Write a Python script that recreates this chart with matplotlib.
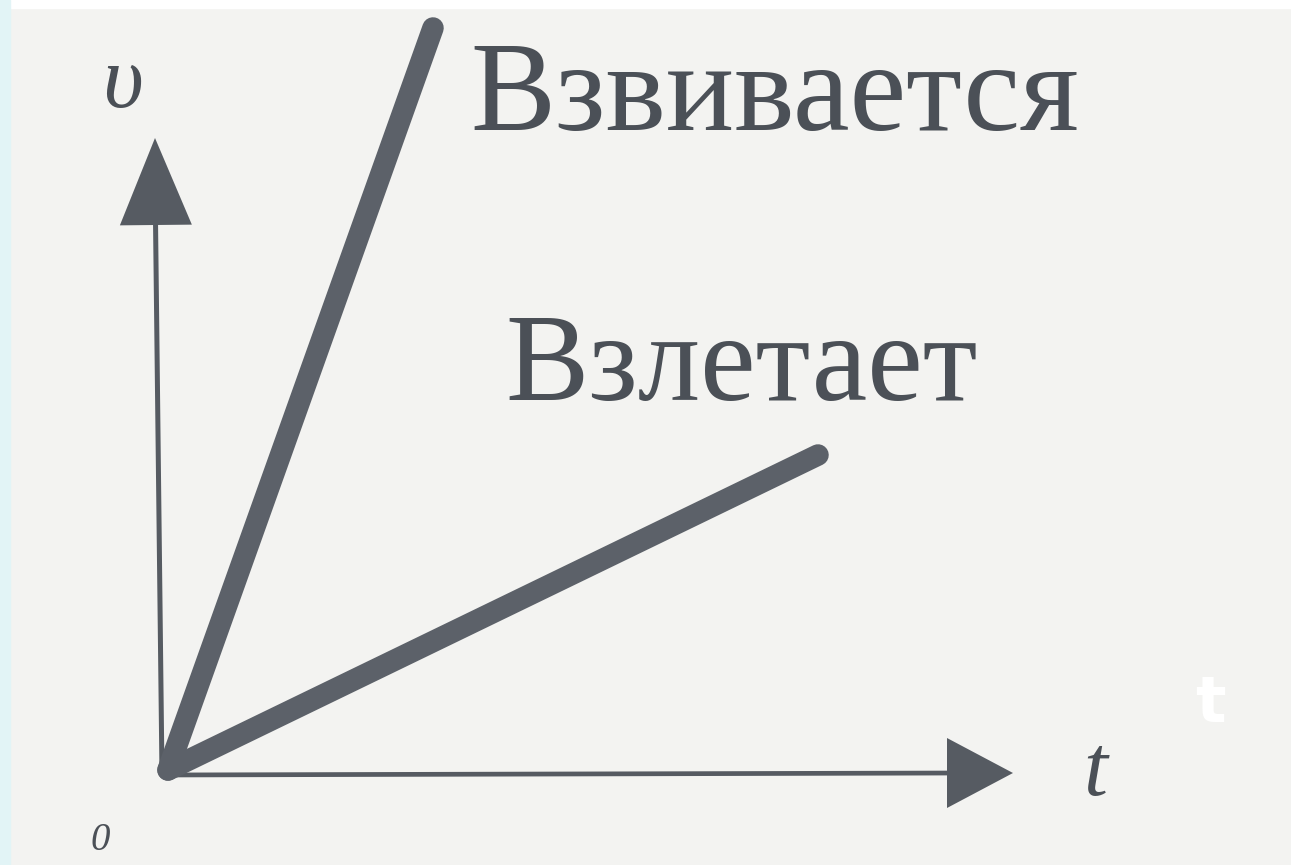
import matplotlib
matplotlib.use("Agg")
import matplotlib.pyplot as plt
from matplotlib.patches import Rectangle
import numpy as np

# ---- data (units: 1 = 100 px of the original picture, origin at the axes corner)
t_vzviv = [0.0, 2.65]      # "Взвивается" (soars up) – steep line
v_vzviv = [0.0, 7.42]
t_vzlet = [0.0, 6.50]      # "Взлетает" (takes off) – gentle line
v_vzlet = [0.0, 3.15]
label_vzviv = "Взвивается"
label_vzlet = "Взлетает"
axis_v_label = "υ"
axis_t_label = "t"
origin_label = "0"

W, H = 1291, 865
fig = plt.figure(figsize=(W / 100, H / 100), dpi=100)
fig.patch.set_facecolor("#f3f3f1")
# scan borders
fig.patches.append(Rectangle((0, 1 - 8 / H), 1, 8 / H, transform=fig.transFigure,
                             color="white", zorder=0))
fig.patches.append(Rectangle((0, 0), 10 / W, 1, transform=fig.transFigure,
                             color="#e2f4f6", zorder=0))

ax = fig.add_axes([0, 0, 1, 1])
ax.set_facecolor("none")
ax.set_xlim(-1.68, 11.23)
ax.set_ylim(-0.95, 7.70)
ax.axis("off")

ink = "#565b62"
line_col = "#5c6169"

# axes with arrow heads
ax.plot([-0.06, -0.125], [-0.05, 5.5], color=ink, lw=3.6, solid_capstyle="round")
ax.plot([-0.06, 7.9], [-0.05, -0.03], color=ink, lw=3.4, solid_capstyle="round")


def head(tip, direction, length, half_width):
    tip = np.asarray(tip, float)
    d = np.asarray(direction, float)
    d = d / np.hypot(*d)
    n = np.array([-d[1], d[0]])
    base = tip - d * length
    pts = np.array([tip, base + n * half_width, base - n * half_width])
    ax.fill(pts[:, 0], pts[:, 1], color=ink, lw=0)


head((-0.13, 6.32), (-0.01, 1.0), 0.87, 0.36)
head((8.45, -0.03), (1.0, 0.0), 0.66, 0.35)

# the two velocity lines
ax.plot(t_vzviv, v_vzviv, color=line_col, lw=15.5, solid_capstyle="round")
ax.plot(t_vzlet, v_vzlet, color=line_col, lw=15.5, solid_capstyle="round")

# labels
txt = "#4b5057"
ax.text(3.02, 6.40, label_vzviv, fontsize=92, family="Liberation Serif",
        color=txt, ha="left", va="baseline")
ax.text(3.37, 3.70, label_vzlet, fontsize=90, family="Liberation Serif",
        color=txt, ha="left", va="baseline")
ax.text(-0.66, 6.63, axis_v_label, fontsize=64, family="Liberation Serif",
        style="italic", color=txt, ha="left", va="baseline")
ax.text(9.15, -0.25, axis_t_label, fontsize=62, family="Liberation Serif",
        style="italic", color=txt, ha="left", va="baseline")
ax.text(-0.78, -0.80, origin_label, fontsize=28, family="Liberation Serif",
        style="italic", color=txt, ha="left", va="baseline")
ax.text(10.27, 0.48, "t", fontsize=46, family="DejaVu Sans", weight="bold",
        color="white", ha="left", va="baseline")

fig.savefig("out.png", dpi=100, facecolor=fig.get_facecolor())
